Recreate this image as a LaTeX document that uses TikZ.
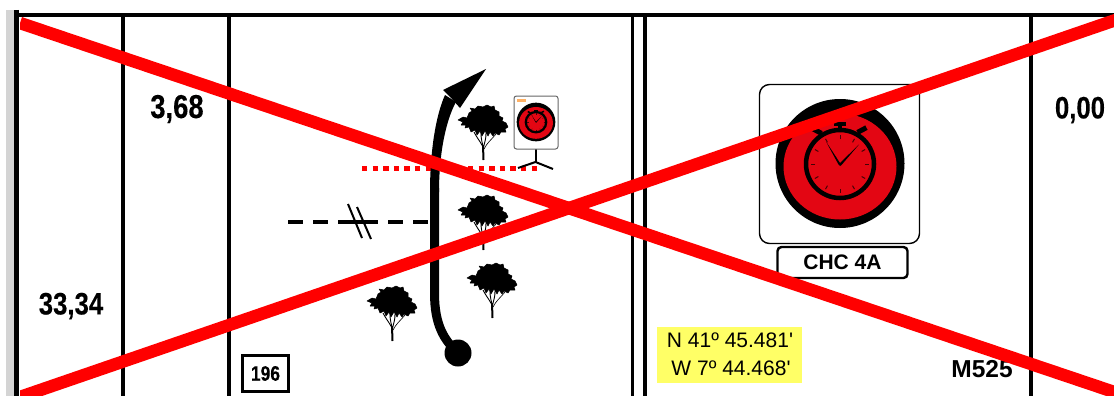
\documentclass[tikz,border=0pt]{standalone}
\usepackage{fontspec}
\setmainfont{Liberation Sans}[Ligatures=TeXOff]
\newfontfamily\narrowbold[FakeStretch=0.83,FakeBold=0.25]{Liberation Sans Bold}
\definecolor{crossred}{HTML}{FF0000}
\definecolor{watchred}{HTML}{E30613}
\definecolor{coordyellow}{HTML}{FFFF66}
\definecolor{leftgray}{HTML}{D4D4D4}
\tikzset{
  x=1pt,y=-1pt,
  gridline/.style={line width=3.2pt,black},
  crossline/.style={line width=12.5pt,crossred},
  bignum/.style={font=\narrowbold\fontsize{31}{31}\selectfont,inner sep=0pt,anchor=center},
  coordtxt/.style={font=\fontsize{21}{21}\selectfont,inner sep=0pt,anchor=center},
  treepic/.pic={
    \filldraw[black,line width=.5pt,line join=round]
      (0,15) -- (5,12) -- (9,13) -- (11,8) -- (14,6) -- (12,3) -- (17,4) -- (20,1) -- (25,2) -- (29,0)
      -- (33,2) -- (36,1) -- (37,5) -- (41,7) -- (41,11) -- (45,13) -- (44,16) -- (48,18) -- (50,22)
      -- (47,24) -- (48,27) -- (43,27) -- (41,30) -- (37,28) -- (35,31) -- (32,27) -- (30,31) -- (27,26)
      -- (24,31) -- (22,26) -- (19,30) -- (17,25) -- (13,27) -- (11,22) -- (7,23) -- (8,20) -- (3,20)
      -- (5,17) -- cycle;
    \draw[black,line width=2pt] (25.5,55) -- (25,40);
    \draw[black,line width=.9pt] (25,42) .. controls (22,36) and (19,33) .. (16,27);
    \draw[black,line width=.9pt] (25,42) .. controls (24,36) and (23,34) .. (23,28);
    \draw[black,line width=.9pt] (25.5,42) .. controls (27,36) and (28,34) .. (28,28);
    \draw[black,line width=.6pt] (26,44) .. controls (29,38) and (33,35) .. (38,29);
  },
  watchpic/.pic={
    \fill[black] (0,0) circle (64.5);
    \fill[watchred] (0,3) ellipse (56.5 and 53);
    \draw[black,line width=#1*4.5pt] (0,0.5) circle (34);
    \foreach \a in {0,30,...,330}
      \draw[black!70!watchred,line width=#1*1pt] (\a:25)++(0,0.5) -- ++(\a:4);
    \fill[black] (-6,-41.5) rectangle (6,-37.5);
    \draw[black,line width=#1*3.5pt] (0,-38) -- (0,-33);
    \fill[black,rotate around={-28:(-23,-32.5)}] (-28,-35) rectangle (-18,-30);
    \fill[black,rotate around={28:(22,-33.5)}] (17,-36) rectangle (27,-31);
    \fill[black] (-14,-22) -- (-1.5,1) -- (0,2.5) -- (1.5,1.5) -- (19,-19) -- (0,-0.5) -- cycle;
  },
}
\begin{document}
\begin{tikzpicture}
\useasboundingbox (0,0) rectangle (1114,396);
\fill[white] (0,0) rectangle (1114,396);
\fill[leftgray] (6,10) rectangle (14,396);
% grid
\coordinate (tl) at (15,15.5);
\coordinate (tr) at (1114,15.5);
\draw[line width=4pt] (tl) -- (tr);
\draw[line width=5pt] (16.5,10) -- (16.5,396);
\foreach \gx in {123,229,632.5,645,1031}
  \draw[gridline] (\gx,15) -- (\gx,396);
% numbers
\node[bignum,font=\narrowbold\fontsize{33}{33}\selectfont] (dist) at (177,109) {3,68};
\node[bignum] (total) at (71,306) {33,34};
\node[bignum] (zero) at (1080,110) {0,00};
% box 196
\node[draw=black,line width=3pt,minimum width=46pt,minimum height=36pt,inner sep=0pt,
  font=\narrowbold\fontsize{21}{21}\selectfont] (box196) at (265.5,373.5) {196};
% red dotted line
\coordinate (dotA) at (362,168);
\coordinate (dotB) at (540,168);
\draw[crossred,line width=5pt,dash pattern=on 5.3pt off 5.3pt] (dotA) -- (dotB);
% dashed road with break
\coordinate (roadA) at (288,222);
\coordinate (roadB) at (429,222);
\coordinate (gapA) at (338,222);
\coordinate (gapB) at (378,222);
\draw[black,line width=3.6pt,dash pattern=on 15pt off 10pt] (roadA) -- (roadB);
\draw[black,line width=3.6pt] (gapA) -- (gapB);
\draw[black,line width=2pt] (348,204) -- (362,238);
\draw[black,line width=2pt] (357,207) -- (371,239);
% route
\coordinate (start) at (458,353);
\coordinate (tip) at (486,69);
\coordinate (headL) at (443,90);
\coordinate (headR) at (460,108);
\coordinate (notch) at (452,99);
\fill[black] (start) circle (13.5);
\draw[black,line width=9pt] (start) .. controls (444,340) and (434.5,325) .. (434.5,293) -- (434.5,188);
\fill[black] (430,192) .. controls (430,150) and (436,115) .. (445,95) -- (456,102)
  .. controls (447,118) and (439,150) .. (439,192) -- cycle;
\fill[black] (tip) -- (headL) -- (notch) -- (headR) -- cycle;
% trees
\pic at (458,105) {treepic};
\pic at (458,195) {treepic};
\pic at (467,263) {treepic};
\pic at (367,286) {treepic};
% small sign
\draw[black,line width=2pt] (535.5,149) -- (535.5,162);
\draw[black,line width=2pt] (518,168) -- (535.5,162) -- (553,169);
\draw[black!60,fill=white,line width=1pt,rounded corners=2.5pt] (514,96) rectangle (558,149);
\fill[orange!60] (517,98.5) rectangle (526,101.5);
\pic[scale=.3] at (536,122) {watchpic=0.5};
% big sign
\draw[black,fill=white,line width=1.4pt,rounded corners=10pt] (759.5,84.5) rectangle (919.5,243.5);
\pic at (840,163.5) {watchpic=1};
\node[draw=black,line width=2.4pt,rounded corners=4pt,minimum width=130pt,minimum height=31pt,inner sep=0pt,
  font=\bfseries\fontsize{21}{21}\selectfont] (chc) at (842.5,262.5) {CHC 4A};
% coordinates
\fill[coordyellow] (657,327) rectangle (802,383);
\node[coordtxt] (north) at (730,340.5) {N 41º 45.481'};
\node[coordtxt] (west) at (731,368.5) {W 7º 44.468'};
\node[font=\bfseries\fontsize{24.5}{24.5}\selectfont,inner sep=0pt] (road) at (982,369) {M525};
% cross
\begin{scope}
\clip (20,0) rectangle (1114,396);
\draw[crossline] (20,23) -- (1120,394);
\draw[crossline] (20,397) -- (1120,18.5);
\end{scope}
\end{tikzpicture}
\end{document}
